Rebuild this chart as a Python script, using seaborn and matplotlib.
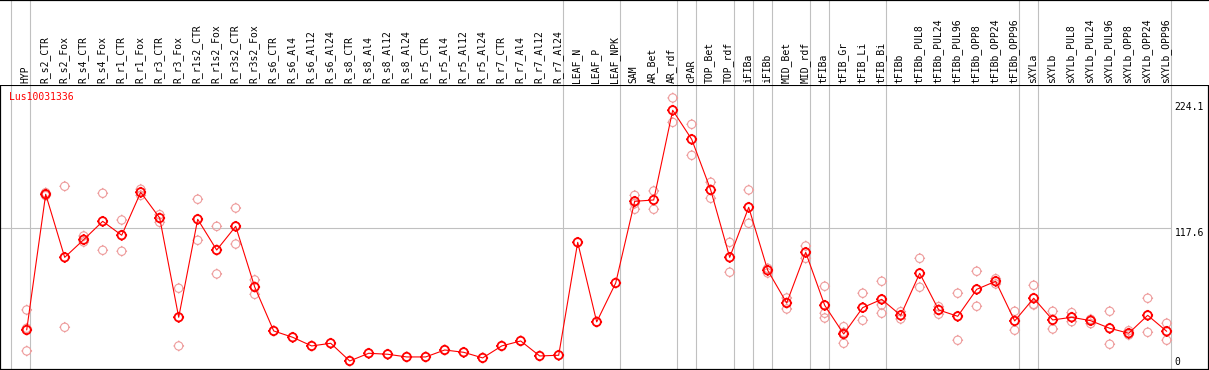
import numpy as np
import pandas as pd
import matplotlib
matplotlib.use("Agg")
import matplotlib.pyplot as plt
import matplotlib.transforms as mtransforms
from matplotlib.path import Path
import seaborn as sns

# sample columns, left to right
samples = [
    "HYP",
    "R_s2_CTR", "R_s2_Fox", "R_s4_CTR", "R_s4_Fox", "R_r1_CTR", "R_r1_Fox",
    "R_r3_CTR", "R_r3_Fox", "R_r1s2_CTR", "R_r1s2_Fox", "R_r3s2_CTR", "R_r3s2_Fox",
    "R_s6_CTR", "R_s6_Al4", "R_s6_Al12", "R_s6_Al24",
    "R_s8_CTR", "R_s8_Al4", "R_s8_Al12", "R_s8_Al24",
    "R_r5_CTR", "R_r5_Al4", "R_r5_Al12", "R_r5_Al24",
    "R_r7_CTR", "R_r7_Al4", "R_r7_Al12", "R_r7_Al24",
    "LEAF_N", "LEAF_P", "LEAF_NPK",
    "SAM", "AR_Bet", "AR_rdf",
    "cPAR", "TOP_Bet", "TOP_rdf",
    "iFIBa", "iFIBb",
    "MID_Bet", "MID_rdf",
    "tFIBa", "tFIB_Gr", "tFIB_Li", "tFIB_Bi",
    "tFIBb", "tFIBb_PUL8", "tFIBb_PUL24", "tFIBb_PUL96",
    "tFIBb_OPP8", "tFIBb_OPP24", "tFIBb_OPP96",
    "sXYLa",
    "sXYLb", "sXYLb_PUL8", "sXYLb_PUL24", "sXYLb_PUL96",
    "sXYLb_OPP8", "sXYLb_OPP24", "sXYLb_OPP96",
]

# mean expression per sample (red line)
means = [
    34.0, 145.2, 93.5, 108.0, 123.0, 111.6, 146.8, 125.7, 44.4, 124.7, 99.5, 118.9, 69.2,
    33.2, 28.0, 20.9, 23.1, 8.6, 14.9, 14.1, 11.9, 11.9, 17.6, 15.7, 11.1, 20.9, 25.0, 12.7, 13.3,
    105.8, 40.6, 72.5,
    139.4, 140.5, 214.0,
    190.2, 148.7, 93.5,
    134.5, 82.9,
    56.1, 97.6,
    54.2, 30.7, 52.3, 59.1,
    46.0, 80.4, 50.4, 45.2, 67.3, 73.9, 41.4,
    60.0,
    42.2, 44.4, 41.6, 35.4, 31.3, 46.0, 32.9,
]

# individual replicates (pink circles); empty where only one value
replicates = [
    [50.4, 35.4, 16.8],
    [146.5, 144.0], [151.7, 36.2], [111.0, 106.1], [146.0, 99.3], [124.1, 98.5], [149.3, 144.3],
    [128.5, 122.2], [68.2, 20.9], [141.1, 107.5], [118.9, 79.9], [133.9, 104.4], [75.0, 63.2],
    [], [], [], [], [], [], [], [], [], [], [], [], [], [], [], [],
    [], [], [],
    [144.3, 137.5, 132.9], [147.9, 132.9], [224.1, 204.1],
    [202.5, 177.1], [155.0, 141.9], [105.8, 81.3],
    [148.7, 121.4], [84.5, 80.7],
    [60.2, 51.2], [102.8, 92.7],
    [69.8, 47.7, 43.8], [36.7, 32.0, 23.1], [64.1, 41.9], [73.9, 54.5, 47.7],
    [49.0, 43.0], [92.7, 69.0], [53.1, 46.9], [64.1, 25.6], [82.1, 53.4], [76.0, 71.7], [49.3, 33.8],
    [70.6, 55.0, 54.5],
    [49.3, 34.8], [48.2, 40.8], [42.8, 39.2], [49.3, 22.3], [33.4, 29.9], [60.0, 32.1], [39.5, 25.6],
]

# last column index of each sample group (grey separators)
group_ends = [-1, 0, 28, 31, 34, 35, 37, 38, 39, 41, 42, 45, 52, 53, 60]
gene = "Lus10031336"
y_marks = [0, 117.6, 224.1]

main_df = pd.DataFrame({"pos": np.arange(len(samples)), "value": means})
rep_df = pd.DataFrame(
    [(i, v) for i, reps in enumerate(replicates) for v in reps],
    columns=["pos", "value"],
)

sns.set_theme(style="white")
plt.rcParams["font.family"] = ["DejaVu Sans Mono"]

W, H = 1209, 370
HEAD = 85
fig = plt.figure(figsize=(W / 100, H / 100), dpi=100)
ax = fig.add_axes([0, 0, 1, (H - HEAD) / H])
hax = fig.add_axes([0, (H - HEAD) / H, 1, HEAD / H])

# circle with four small ticks, like the original markers
circ = Path.unit_circle()
ticks = []
for dx, dy in [(1, 0), (-1, 0), (0, 1), (0, -1)]:
    ticks.append(Path([(dx, dy), (1.3 * dx, 1.3 * dy)], [Path.MOVETO, Path.LINETO]))
mark = Path.make_compound_path(circ, *ticks)

grid_col = "#c0c0c0"
pink = "#ee9c9c"

# column i sits at 26.7 + 19*i px
x_lo, x_hi = -26.7 / 19, (W - 26.7) / 19
for a in (ax, hax):
    a.set_xlim(x_lo, x_hi)
    for e in group_ends:
        off = 0.15 if e < 0 else 0.2
        a.axvline(e + off, color=grid_col, lw=0.8, zorder=0)
ax.set_ylim(1.2, 234.7)
hax.set_ylim(0, HEAD)

ax.hlines(y_marks[1], x_lo, group_ends[-1] + 0.2, color=grid_col, lw=0.8, zorder=0)

sns.scatterplot(data=rep_df, x="pos", y="value", ax=ax, marker=mark, s=60,
                color=pink, facecolor="none", edgecolor=pink, linewidth=0.8, zorder=2)
sns.lineplot(data=main_df, x="pos", y="value", ax=ax, color="red", lw=0.8,
             sort=False, zorder=3)
sns.scatterplot(data=main_df, x="pos", y="value", ax=ax, marker=mark, s=60,
                color="red", facecolor="none", edgecolor="red", linewidth=1.3, zorder=4)

ax.set_xticks([])
ax.set_yticks([])
ax.set_xlabel("")
ax.set_ylabel("")
for side, sp in ax.spines.items():
    sp.set_visible(True)
    sp.set_color("black")
    sp.set_linewidth(0.8 if side == "top" else 1.6)

hax.set_xticks([])
hax.set_yticks([])
for side, sp in hax.spines.items():
    sp.set_visible(side == "top")
sp = hax.spines["top"]
sp.set_color("black")
sp.set_linewidth(1.6)

for i, name in enumerate(samples):
    hax.text(i - 0.05, 2.3, name, rotation=90, ha="center", va="bottom",
             fontsize=7, color="black")

# value labels at the right side
lab_x = group_ends[-1] + 0.42
for val, va, dy in [(224.1, "top", -4), (117.6, "top", -0.5), (0, "bottom", 4)]:
    tr = mtransforms.offset_copy(ax.transData, fig=fig, y=dy, units="dots")
    ax.text(lab_x, val, f"{val:g}", transform=tr, ha="left", va=va,
            fontsize=7, color="black")

fig.text(9.3 / W, 1 - 96.7 / H, gene, ha="left", va="center", fontsize=7, color="red")

fig.savefig("out.png", dpi=100)
